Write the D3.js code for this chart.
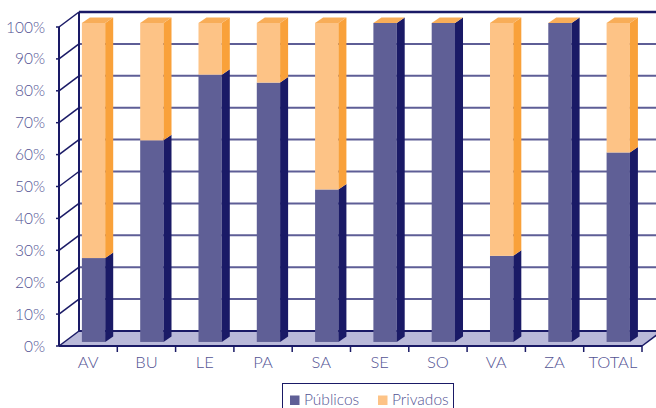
<!DOCTYPE html>
<html><head><meta charset="utf-8">
<script src="https://cdn.jsdelivr.net/npm/d3@7"></script>
<style>body{margin:0;background:#fff}svg{display:block}text{font-family:Lato,"Open Sans",sans-serif;font-weight:300}</style>
</head><body><svg id="c" width="656" height="408"></svg>
<script>
const categories = ["AV","BU","LE","PA","SA","SE","SO","VA","ZA","TOTAL"];
const publicos = [26.3, 63.2, 83.8, 81.3, 47.8, 100, 100, 27.0, 100, 59.4];
const privados = [73.7, 36.8, 16.2, 18.7, 52.2, 0, 0, 73.0, 0, 40.6];
const yTicks = [0,10,20,30,40,50,60,70,80,90,100];
const seriesNames = ["Públicos","Privados"];

const svg = d3.select("#c");
const W = 656, H = 408;
const x0 = 59, x1 = 642, yBase = 346, yTop = 27;
const DX = 20, DY = -15;           // wall depth
const bf = 0.27;                   // bar depth position fraction
const bdx = 8, bdy = -5.5;         // bar own depth
const x = d3.scaleBand().domain(categories).range([x0, x1]).padding(0);
const y = d3.scaleLinear().domain([0,100]).range([yBase, yTop]);

const navy = "#1a1a66", grid = "#5e5e96", txt = "#545494";
const col = {
  pub: {front:"#5f5f96", side:"#1a1a66", top:"#8080b0"},
  pri: {front:"#fdc386", side:"#f9a13a", top:"#f8ad58"}
};

const g = svg.append("g");
g.selectAll("line.grid").data(yTicks.filter(t=>t>0 && t<100)).join("line")
  .attr("x1", x0+DX).attr("x2", W+10)
  .attr("y1", d=>y(d)+DY).attr("y2", d=>y(d)+DY)
  .attr("stroke", grid).attr("stroke-width", 2);
g.append("line").attr("x1", x0+DX).attr("x2", W+10).attr("y1", y(100)+DY).attr("y2", y(100)+DY)
  .attr("stroke", navy).attr("stroke-width", 2.5);
g.append("line").attr("x1", x0+DX).attr("x2", x0+DX).attr("y1", y(100)+DY).attr("y2", y(0)+DY)
  .attr("stroke", navy).attr("stroke-width", 2);
g.append("polygon")
  .attr("points", [[x0,yBase],[x1,yBase],[x1+DX,yBase+DY],[x0+DX,yBase+DY]].map(p=>p.join(",")).join(" "))
  .attr("fill", "#b9b9d9");
g.append("line").attr("x1", x0+DX).attr("x2", W+10).attr("y1", yBase+DY).attr("y2", yBase+DY)
  .attr("stroke", navy).attr("stroke-width", 2);
g.append("line").attr("x1", x0).attr("x2", x0).attr("y1", y(100)).attr("y2", y(0))
  .attr("stroke", navy).attr("stroke-width", 2);
g.selectAll("line.diag").data(yTicks).join("line")
  .attr("x1", x0).attr("y1", d=>y(d)).attr("x2", x0+DX).attr("y2", d=>y(d)+DY)
  .attr("stroke", navy).attr("stroke-width", 1.5);
g.selectAll("line.ytk").data(yTicks).join("line")
  .attr("x1", x0-3).attr("x2", x0).attr("y1", d=>y(d)).attr("y2", d=>y(d))
  .attr("stroke", navy).attr("stroke-width", 1.5);
g.selectAll("text.yl").data(yTicks).join("text")
  .attr("x", 45).attr("y", d=>y(d)+5.5).attr("text-anchor","end")
  .attr("font-size", 15.5).attr("fill", txt).text(d=>d+"%");

const bw = x.bandwidth()*0.4;
const bx = c => x(c) + x.bandwidth()/2 - bw/2 + DX*bf;
const by = v => y(v) + DY*bf;
function face(gg, c, v0, v1, cc, drawTop){
  const xl = bx(c), xr = xl + bw, yt = by(v1), yb = by(v0);
  gg.append("rect").attr("x", xl).attr("y", yt).attr("width", bw).attr("height", yb-yt).attr("fill", cc.front);
  gg.append("polygon").attr("points", [[xr,yb],[xr+bdx,yb+bdy],[xr+bdx,yt+bdy],[xr,yt]].map(p=>p.join(",")).join(" "))
    .attr("fill", cc.side);
  if (drawTop) gg.append("polygon").attr("points", [[xl,yt],[xr,yt],[xr+bdx,yt+bdy],[xl+bdx,yt+bdy]].map(p=>p.join(",")).join(" "))
    .attr("fill", cc.top);
}
const bars = svg.append("g");
categories.forEach((c,i)=>{
  const gg = bars.append("g");
  face(gg, c, 0, publicos[i], col.pub, false);
  face(gg, c, publicos[i], publicos[i]+privados[i], col.pri, true);
});

svg.append("line").attr("x1", x0).attr("x2", x1).attr("y1", yBase).attr("y2", yBase)
  .attr("stroke", navy).attr("stroke-width", 2);
svg.append("line").attr("x1", x1).attr("y1", yBase).attr("x2", x1+DX).attr("y2", yBase+DY)
  .attr("stroke", navy).attr("stroke-width", 1.5);
svg.selectAll("line.xt").data(categories).join("line")
  .attr("x1", (d,i)=> x(d)+x.step()).attr("x2", (d,i)=> x(d)+x.step())
  .attr("y1", yBase).attr("y2", yBase+6).attr("stroke", navy).attr("stroke-width", 1.5);
svg.selectAll("text.xl").data(categories).join("text")
  .attr("x", d=>x(d)+x.bandwidth()/2).attr("y", 367.5).attr("text-anchor","middle")
  .attr("font-size", 16.5).attr("fill", txt).text(d=>d);

const lg = svg.append("g");
lg.append("rect").attr("x", 282.5).attr("y", 383.5).attr("width", 171).attr("height", 30)
  .attr("fill", "#fff").attr("stroke", navy).attr("stroke-width", 1);
const legX = [290, 378];
seriesNames.forEach((s,i)=>{
  lg.append("rect").attr("x", legX[i]).attr("y", 395.5).attr("width", 9.5).attr("height", 9.5)
    .attr("fill", i===0 ? col.pub.front : col.pri.front);
  lg.append("text").attr("x", legX[i]+14).attr("y", 405).attr("font-size", 15.5).attr("fill", txt).text(s);
});
</script></body></html>
